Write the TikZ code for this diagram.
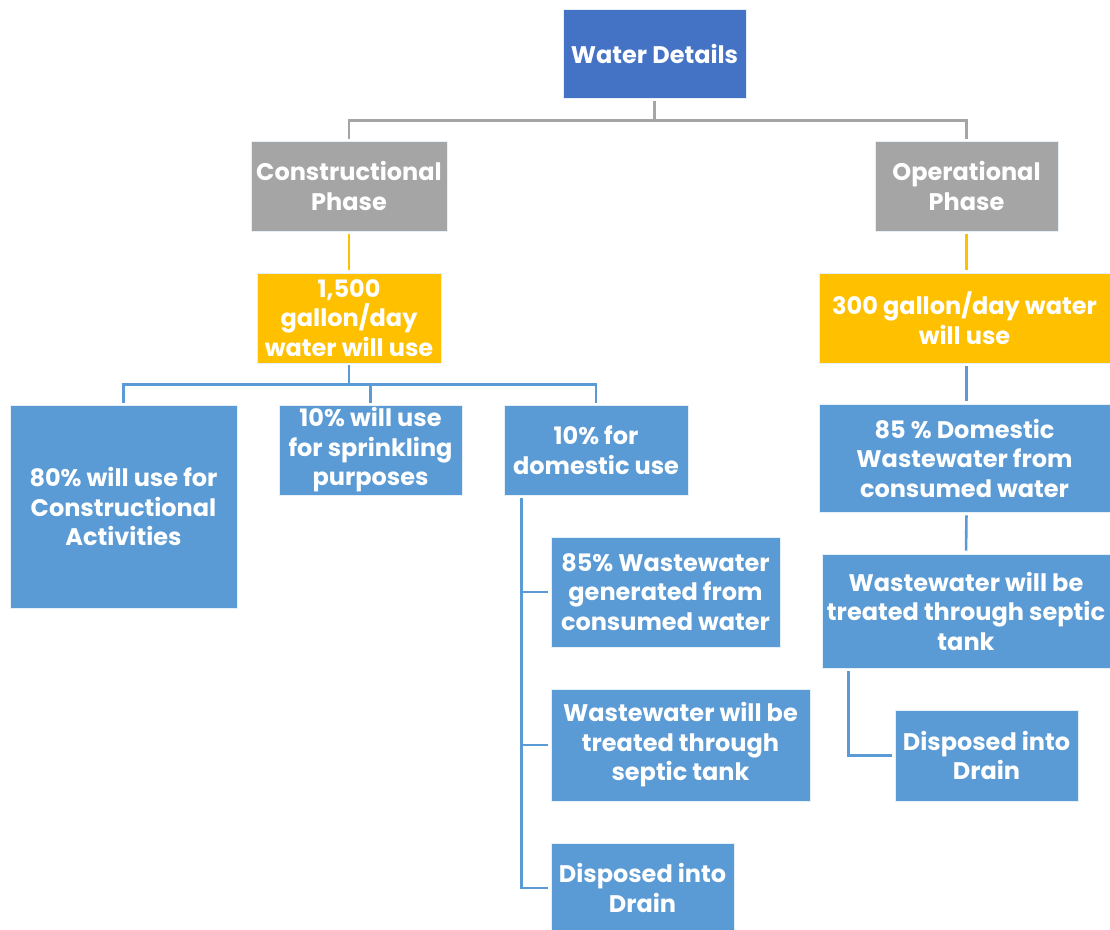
\documentclass[tikz,border=0pt]{standalone}
\usepackage{fontspec}
\setmainfont{Poppins}
\usetikzlibrary{positioning, calc}
\definecolor{headblue}{HTML}{4472C4}
\definecolor{phasegray}{HTML}{A5A5A5}
\definecolor{usegold}{HTML}{FFC000}
\definecolor{itemblue}{HTML}{5B9BD5}

\begin{document}
\begin{tikzpicture}[x=1pt, y=-1pt,
        block/.style={rectangle, draw=white!85!itemblue, line width=0.8pt, text=white, align=center, inner sep=0pt,
            font=\bfseries\fontsize{24}{29.5}\selectfont},
        head/.style={block, fill=headblue},
        phase/.style={block, fill=phasegray},
        amount/.style={block, fill=usegold},
        item/.style={block, fill=itemblue},
        grayline/.style={draw=phasegray, line width=2.6pt},
        goldline/.style={draw=usegold, line width=2.6pt},
        blueline/.style={draw=itemblue, line width=2.6pt}
    ]
        \useasboundingbox (0,0) rectangle (1110,929);

        % Nodes
        \node [head, minimum width=183pt, minimum height=89pt] (water) at (654.5,53.5) {Water Details};

        \node [phase, minimum width=196pt, minimum height=90pt] (constr) at (349,186) {Constructional\\Phase};
        \node [phase, minimum width=183pt, minimum height=90pt] (oper) at (966.5,186) {Operational\\Phase};

        \node [amount, minimum width=184pt, minimum height=90pt] (use1) at (349,318) {1,500\\gallon/day\\water will use};
        \node [amount, minimum width=291pt, minimum height=90pt] (use2) at (964.5,318) {300 gallon/day water\\will use};

        \node [item, minimum width=227pt, minimum height=203pt] (activity) at (123.5,506.5) {80\% will use for\\Constructional\\Activities};
        \node [item, minimum width=183pt, minimum height=90pt] (sprinkle) at (370.5,450) {10\% will use\\for sprinkling\\purposes};
        \node [item, minimum width=184pt, minimum height=90pt] (domestic) at (596,450) {10\% for\\domestic use};

        \node [item, minimum width=229pt, minimum height=110pt] (waste1) at (665.5,592) {85\% Wastewater\\generated from\\consumed water};
        \node [item, minimum width=259pt, minimum height=112pt] (treat1) at (680.5,745) {Wastewater will be\\treated through\\septic tank};
        \node [item, minimum width=183pt, minimum height=90pt] (drain1) at (642.5,888) {Disposed into\\Drain};

        \node [item, minimum width=291pt, minimum height=108pt] (waste2) at (964.5,458) {85 \% Domestic\\Wastewater from\\consumed water};
        \node [item, minimum width=288pt, minimum height=114pt] (treat2) at (966,611) {Wastewater will be\\treated through septic\\tank};
        \node [item, minimum width=183pt, minimum height=91pt] (drain2) at (986.5,755.5) {Disposed into\\Drain};

        % Connectors
        \draw [grayline, shorten <=3pt, shorten >=2pt] (water.south) -- ++(0,22) -| (constr.north);
        \draw [grayline, shorten <=3pt, shorten >=2pt] (water.south) -- ++(0,22) -| (oper.north);
        \draw [goldline, shorten <=3pt, shorten >=3pt] (constr) -- (use1);
        \draw [goldline, shorten <=3pt, shorten >=3pt] (oper.south) -- (oper.south |- use2.north);
        \draw [blueline, shorten <=2pt, shorten >=2pt] (use1.south) -- ++(0,21) -| (activity.north);
        \draw [blueline, shorten <=2pt, shorten >=2pt] (use1.south) -- ++(0,21) -| (sprinkle.north);
        \draw [blueline, shorten <=2pt, shorten >=2pt] (use1.south) -- ++(0,21) -| (domestic.north);
        \draw [blueline, shorten <=3pt, shorten >=3pt] ($(domestic.south west)+(18,0)$) |- (waste1.west);
        \draw [blueline, shorten <=3pt, shorten >=3pt] ($(domestic.south west)+(18,0)$) |- (treat1.west);
        \draw [blueline, shorten <=3pt, shorten >=3pt] ($(domestic.south west)+(18,0)$) |- (drain1.west);
        \draw [blueline, shorten <=3pt, shorten >=3pt] ($(use2.south)+(2,0)$) -- ($(waste2.north)+(2,0)$);
        \draw [blueline, shorten <=3pt, shorten >=3pt] ($(waste2.south)+(2,0)$) -- (treat2.north);
        \draw [blueline, shorten <=3pt, shorten >=3pt] ($(treat2.south west)+(27,0)$) |- (drain2.west);
    \end{tikzpicture}
\end{document}
